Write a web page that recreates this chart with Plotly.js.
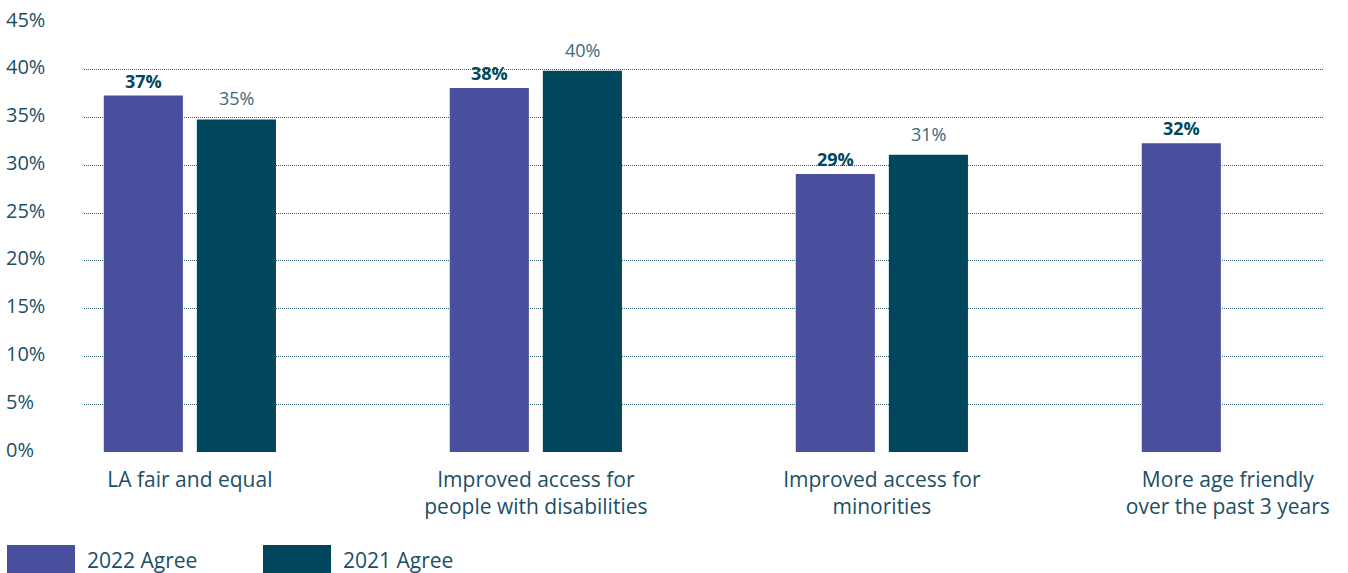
<!DOCTYPE html>
<html>
<head>
<meta charset="utf-8">
<script src="https://cdn.plot.ly/plotly-3.0.1.min.js"></script>
<style>html,body{margin:0;padding:0;background:#fff;}#chart{width:1348px;height:573px;}</style>
</head>
<body>
<div id="chart"></div>
<script>
// ---- data ----
const categories = [
  "LA fair and equal",
  "Improved access for<br>people with disabilities",
  "Improved access for<br>minorities",
  "More age friendly<br>over the past 3 years"
];
const series2022Name = "2022 Agree";
const series2022 = [37.3, 38.1, 29.1, 32.3];
const series2021Name = "2021 Agree";
const series2021 = [34.8, 39.9, 31.1, null];
const yTickVals = [0, 5, 10, 15, 20, 25, 30, 35, 40, 45];
const yTickText = yTickVals.map(v => v + "%");

// ---- style ----
const W = 1348, H = 573;
const M = {l: 84, r: 25, t: 22, b: 121};
const PW = W - M.l - M.r, PH = H - M.t - M.b;
const purple = "#4a4f9d";
const teal = "#00475e";
const textTeal = "#1c4f66";
const lightTeal = "#3b6a80";
const FONT = "'Open Sans', sans-serif";
const BARGAP = 0.462, BARGROUPGAP = 0.15;
const px2x = p => (p - M.l) / PW;
const px2y = p => (M.t + PH - p) / PH;

const traces = [
  {type: "bar", name: series2022Name, x: categories, y: series2022,
   marker: {color: purple}, hoverinfo: "skip"},
  {type: "bar", name: series2021Name, x: categories, y: series2021,
   marker: {color: teal}, hoverinfo: "skip"}
];

const annotations = [];
// value labels, placed at each bar's slot centre (derived from bargap)
const slotOffset = (1 - BARGAP) / 4;
const labelSeries = [
  {vals: series2022, off: -slotOffset, font: {family: FONT, size: 18, color: teal, weight: 700}, yshift: 1},
  {vals: series2021, off: slotOffset, font: {family: FONT, size: 18, color: lightTeal}, yshift: 7}
];
labelSeries.forEach(s => {
  s.vals.forEach((v, i) => {
    if (v == null) return;
    annotations.push({xref: "x", yref: "y", x: i + s.off, y: v,
      xanchor: "center", yanchor: "bottom", yshift: s.yshift, showarrow: false,
      text: Math.round(v) + "%", font: s.font});
  });
});

yTickVals.forEach((v, i) => annotations.push({
  xref: "paper", yref: "y", x: 0, y: v, xanchor: "left", yanchor: "middle",
  xshift: -80, yshift: 3, showarrow: false, text: yTickText[i],
  font: {family: FONT, size: 20, color: textTeal}
}));

const legendItems = [
  {name: series2022Name, color: purple, x0: 7, x1: 75, tx: 85},
  {name: series2021Name, color: teal, x0: 263, x1: 331, tx: 341}
];
const shapes = [];
legendItems.forEach(it => {
  shapes.push({type: "rect", xref: "paper", yref: "paper",
    x0: px2x(it.x0), x1: px2x(it.x1), y0: px2y(545), y1: px2y(574),
    fillcolor: it.color, line: {width: 0}});
  annotations.push({xref: "paper", yref: "paper", x: px2x(it.tx), y: px2y(560),
    xanchor: "left", yanchor: "middle", showarrow: false, text: it.name,
    font: {family: FONT, size: 21, color: textTeal}});
});

const layout = {
  width: W, height: H,
  margin: M,
  paper_bgcolor: "#fff", plot_bgcolor: "#fff",
  showlegend: false,
  barmode: "group", bargap: BARGAP, bargroupgap: BARGROUPGAP,
  font: {family: FONT, color: textTeal},
  xaxis: {
    type: "category", range: [-0.306, 3.275],
    showgrid: false, zeroline: false, showline: false, ticks: "",
    tickfont: {family: FONT, size: 21, color: textTeal},
    ticklabelstandoff: 13
  },
  yaxis: {
    range: [0, 45], tickvals: yTickVals, showticklabels: false,
    showgrid: true, gridcolor: "#2f6278", gridwidth: 1, griddash: "1px,1px",
    zeroline: false, showline: false, ticks: ""
  },
  annotations: annotations,
  shapes: shapes
};

Plotly.newPlot("chart", traces, layout, {displayModeBar: false, staticPlot: true});
</script>
</body>
</html>
